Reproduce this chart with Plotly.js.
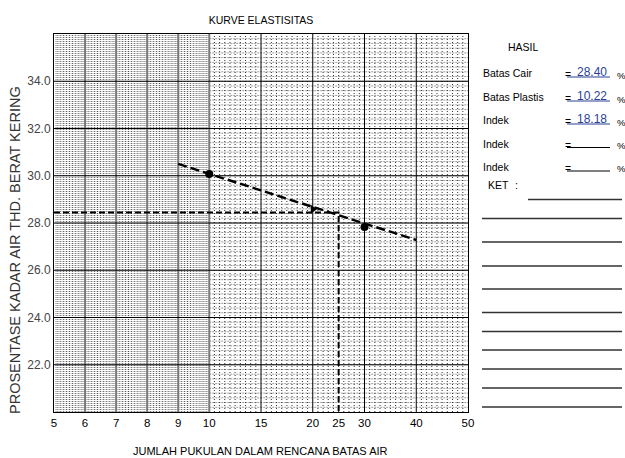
<!DOCTYPE html>
<html>
<head>
<meta charset="utf-8">
<script src="https://cdn.plot.ly/plotly-3.0.1.min.js"></script>
<style>html,body{margin:0;padding:0;background:#fff;}#chart{width:625px;height:458px;}</style>
</head>
<body>
<div id="chart"></div>
<script>
// ---- data ----
const blowTicks = [5, 6, 7, 8, 9, 10, 15, 20, 25, 30, 40, 50];
const waterTicks = [22, 24, 26, 28, 30, 32, 34];
const testBlows = [10, 20, 30];
const testWater = [30.07, 28.58, 27.83];
const trendBlows = [9, 40];
const trendWater = [30.5, 27.28];
const llBlows = [5, 25, 25];
const llWater = [28.44, 28.44, 20];
const resultLabels = ['Batas Cair', 'Batas Plastis', 'Indek', 'Indek', 'Indek'];
const resultValues = ['28.40', '10.22', '18.18', '', ''];

// ---- chart-paper x scale: linear 5..10, equal steps 10-15-20-30-40-50 ----
const knotBlows = [5, 10, 15, 20, 30, 40, 50];
const knotPos = [0, 5, 6.667, 8.333, 10, 11.667, 13.333];
function pos(b) {
  for (let i = 0; i < knotBlows.length - 1; i++) {
    if (b <= knotBlows[i + 1] || i === knotBlows.length - 2) {
      const t = (b - knotBlows[i]) / (knotBlows[i + 1] - knotBlows[i]);
      return knotPos[i] + t * (knotPos[i + 1] - knotPos[i]);
    }
  }
}
const X0 = pos(5), X10 = pos(10), X1 = pos(50);
const Y0 = 20, Y1 = 36;

const shapes = [];
function vline(p, color, width, dash) {
  shapes.push({type: 'line', layer: 'below', xref: 'x', yref: 'y', x0: p, x1: p, y0: Y0, y1: Y1,
    line: {color: color, width: width, dash: dash}});
}
function hline(y, xa, xb, color, width, dash) {
  shapes.push({type: 'line', layer: 'below', xref: 'x', yref: 'y', x0: xa, x1: xb, y0: y, y1: y,
    line: {color: color, width: width, dash: dash}});
}
// graph-paper texture, left part: dense vertical dots
for (let k = 1; k < 100; k++) {
  const v = 5 + k * 0.05;
  vline(pos(v), k % 2 ? '#b8b8b8' : '#505050', 1, '1px,1px');
}
// right part: dotted grid
for (let k = 1; k < 80; k++) {
  hline(20 + k * 0.2, X10, X1, '#9a9a9a', 1, '2px,1px');
}
for (let i = 1; i < knotBlows.length - 1; i++) {
  const a = knotPos[i], b = knotPos[i + 1];
  for (let k = 1; k < 10; k++) {
    vline(a + (b - a) * k / 10, '#333', 1, '1px,2px');
  }
}
// major lines
[6, 7, 8, 9, 10].forEach(b => vline(pos(b), '#7a7a7a', 2, 'solid'));
[15, 20, 30, 40].forEach(b => vline(pos(b), '#000', 1, 'solid'));
waterTicks.forEach(w => hline(w, X0, X1, '#000', 1.2, 'solid'));

// ---- right-hand result panel (pixel -> paper helpers) ----
const PL = 54, PR = 468, PT = 34, PB = 412;
const px = x => (x - PL) / (PR - PL);
const py = y => (PB - y) / (PB - PT);
const FONT = 'Liberation Sans, Arial, sans-serif';
const annotations = [];
function txt(text, x, y, opts) {
  annotations.push(Object.assign({text: text, xref: 'paper', yref: 'paper', x: px(x), y: py(y),
    xanchor: 'left', yanchor: 'middle', showarrow: false,
    font: {family: FONT, size: 10.5, color: '#000'}}, opts || {}));
}
txt('HASIL', 523, 47, {xanchor: 'center'});
const rowY = [73, 97, 120, 143.5, 167];
resultLabels.forEach((lab, i) => {
  txt(lab, 481, rowY[i]);
  txt('=', 563, rowY[i] + 1);
  if (resultValues[i]) txt(resultValues[i], 592, rowY[i] - 1, {xanchor: 'center', font: {family: FONT, size: 12, color: '#2a3f95'}});
  txt('%', 615, rowY[i] + 2, {font: {family: FONT, size: 9.5, color: '#000'}});
  shapes.push({type: 'line', xref: 'paper', yref: 'paper', x0: px(567), x1: px(610), y0: py(rowY[i] + 4), y1: py(rowY[i] + 4),
    line: {color: i < 3 ? '#2a3f95' : '#000', width: 1}});
});
txt('KET', 486, 185);
txt(':', 513, 185);
const noteLines = [199.5, 218.5, 242, 266, 289, 312.5, 331.5, 350, 369, 388, 407];
noteLines.forEach((y, i) => shapes.push({type: 'line', xref: 'paper', yref: 'paper',
  x0: px(i === 0 ? 528 : 482), x1: px(622), y0: py(y), y1: py(y), line: {color: '#333', width: 1.5}}));

// titles
annotations.push({text: 'PROSENTASE KADAR AIR THD. BERAT KERING', xref: 'paper', yref: 'paper',
  x: px(15), y: py(250), textangle: -90, showarrow: false, xanchor: 'center', yanchor: 'middle',
  font: {family: FONT, size: 14.5, color: '#333'}});
annotations.push({text: 'JUMLAH PUKULAN DALAM RENCANA BATAS AIR', xref: 'paper', yref: 'paper',
  x: px(260), y: py(451), showarrow: false, xanchor: 'center', yanchor: 'middle',
  font: {family: FONT, size: 11, color: '#000'}});

const traces = [
  {x: trendBlows.map(pos), y: trendWater, mode: 'lines', type: 'scatter', hoverinfo: 'skip',
   line: {color: '#000', width: 2.4, dash: '9px,4px'}},
  {x: testBlows.map(pos), y: testWater, mode: 'markers', type: 'scatter',
   marker: {color: '#000', size: 8, symbol: ['circle', 'triangle-right', 'circle']}},
  {x: llBlows.map(pos), y: llWater, mode: 'lines', type: 'scatter', hoverinfo: 'skip',
   line: {color: '#000', width: 2, dash: '6px,3px'}}
];

const layout = {
  width: 625, height: 458,
  margin: {l: PL, r: 625 - PR, t: PT, b: 458 - PB, pad: 0},
  paper_bgcolor: '#fff', plot_bgcolor: '#fff',
  showlegend: false,
  title: {text: 'KURVE ELASTISITAS', x: 0.5, xref: 'paper', y: 1 - 20 / 458, yref: 'container',
    xanchor: 'center', yanchor: 'middle', font: {family: FONT, size: 10.5, color: '#000'}},
  xaxis: {range: [X0, X1], showgrid: false, zeroline: false, showline: true, mirror: true,
    linecolor: '#000', linewidth: 1, ticks: '',
    tickvals: blowTicks.map(pos), ticktext: blowTicks.map(String),
    tickfont: {family: FONT, size: 11.5, color: '#000'}},
  yaxis: {range: [Y0, Y1], showgrid: false, zeroline: false, showline: true, mirror: true,
    linecolor: '#000', linewidth: 1, ticks: '',
    tickvals: waterTicks, ticktext: waterTicks.map(v => v.toFixed(1)),
    tickfont: {family: FONT, size: 12, color: '#444'}},
  shapes: shapes,
  annotations: annotations
};
Plotly.newPlot('chart', traces, layout, {staticPlot: true, displayModeBar: false});
</script>
</body>
</html>
